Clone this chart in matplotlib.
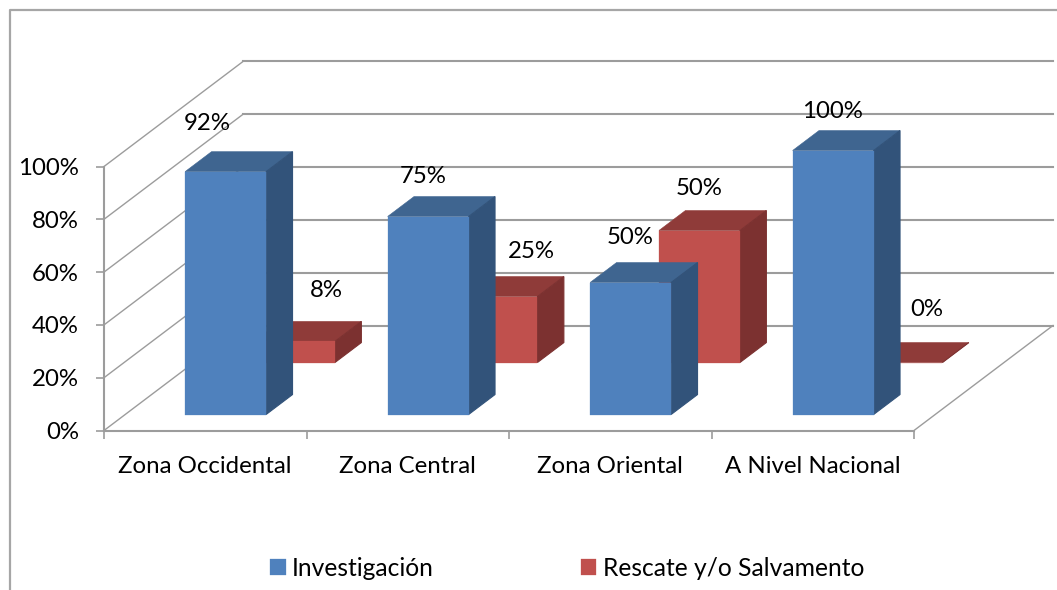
import matplotlib
matplotlib.use('Agg')
import matplotlib.pyplot as plt
from matplotlib.lines import Line2D
from matplotlib.patches import Polygon

plt.rcParams['font.family'] = ['Lato', 'DejaVu Sans']

categorias = ['Zona Occidental', 'Zona Central', 'Zona Oriental', 'A Nivel Nacional']
investigacion = [92, 75, 50, 100]
rescate = [8, 25, 50, 0]
ticks_y = [0, 20, 40, 60, 80, 100]

# pixels of one category / 100%, the rest is the oblique 3D look
W, H = 1057, 590
PX_CAT = 202.5
PX_PCT = 2.64
X0, Y0 = 104, 430.5
DX = 139 / PX_CAT
DY = 105 / PX_PCT
ANCHO = 0.4
FONDO = 0.19
FS = 17.3

fig = plt.figure(figsize=(W / 100, H / 100), dpi=100)
ax = fig.add_axes([0, 0, 1, 1])
ax.set_xlim(-X0 / PX_CAT, (W - X0) / PX_CAT)
ax.set_ylim(-(H - Y0) / PX_PCT, Y0 / PX_PCT)
ax.patch.set_visible(False)

gris = '#9c9c9c'

# paredes y piso
for v in ticks_y:
    ax.plot([0, DX], [v, v + DY], color=gris, lw=1.0, zorder=1)
    ax.plot([DX, 4 + DX], [v + DY, v + DY], color=gris, lw=1.5, zorder=1)
ax.plot([4, 4 + DX], [0, DY], color=gris, lw=1.0, zorder=1)

for s in ['top', 'right']:
    ax.spines[s].set_visible(False)
for s in ['left', 'bottom']:
    ax.spines[s].set_position(('data', 0))
    ax.spines[s].set_color(gris)
    ax.spines[s].set_linewidth(1.5)
ax.spines['left'].set_bounds(0, 100)
ax.spines['bottom'].set_bounds(0, 4)

ax.set_yticks(ticks_y)
ax.set_yticklabels([f'{v}%' for v in ticks_y], fontsize=FS)
ax.set_xticks(range(5))
ax.set_xticklabels([])
ax.set_xticks([i + 0.5 for i in range(4)], minor=True)
ax.set_xticklabels(categorias, minor=True, fontsize=FS)
ax.tick_params(axis='both', which='major', length=6, width=1.2, color=gris)
ax.tick_params(axis='x', which='minor', length=0, pad=18.5)
ax.tick_params(axis='y', pad=12)


def barra(i, valor, prof, caras, z, etiqueta=None):
    frente, lado, tapa = caras
    x = i + 0.496 - ANCHO / 2 + prof * DX
    y = prof * DY
    ax.bar(x, valor, ANCHO, bottom=y, align='edge', color=frente, edgecolor=frente,
           lw=0.2, zorder=z + 0.01, label=etiqueta)
    dx, dy = FONDO * DX, FONDO * DY
    ax.add_patch(Polygon([(x, y + valor), (x + ANCHO, y + valor),
                          (x + ANCHO + dx, y + valor + dy), (x + dx, y + valor + dy)],
                         fc=tapa, ec=tapa, lw=0.4, zorder=z))
    # el borde tapa la junta con la cara frontal
    ax.add_patch(Polygon([(x + ANCHO, y), (x + ANCHO + dx, y + dy),
                          (x + ANCHO + dx, y + valor + dy), (x + ANCHO, y + valor)],
                         fc=lado, ec=lado, lw=0.8, zorder=z))
    return x + ANCHO / 2, y + valor


caras_azul = ('#4f81bd', '#32537a', '#3f6590')
caras_rojo = ('#c0504d', '#7c3130', '#8f3b39')
prof_azul = 16 / 105
prof_rojo = 68 / 105

# desplazamiento de cada etiqueta respecto a la barra, en pixeles
off_azul = [(-18, 48), (-5, 40), (0, 45), (-1, 39)]
off_rojo = [(32, 51), (34, 45), (0, 42), (25, 53)]

for i in range(4):
    lab = 'Rescate y/o Salvamento' if i == 0 else None
    px, py = barra(i, rescate[i], prof_rojo, caras_rojo, 2 + i * 0.1, lab)
    ax.annotate(f'{rescate[i]}%', (px, py), xytext=(off_rojo[i][0] * 0.72, off_rojo[i][1] * 0.72),
                textcoords='offset points', ha='center', va='center', fontsize=FS, zorder=6)
for i in range(4):
    lab = 'Investigación' if i == 0 else None
    px, py = barra(i, investigacion[i], prof_azul, caras_azul, 3 + i * 0.1, lab)
    ax.annotate(f'{investigacion[i]}%', (px, py), xytext=(off_azul[i][0] * 0.72, off_azul[i][1] * 0.72),
                textcoords='offset points', ha='center', va='center', fontsize=FS, zorder=6)

h, l = ax.get_legend_handles_labels()
ax.legend(h[::-1], l[::-1], ncol=2, frameon=False, fontsize=17.7, loc='center left',
          bbox_to_anchor=(263 / W, 1 - 568 / H), handlelength=0.62, handleheight=0.62,
          handletextpad=0.25, columnspacing=6.0, borderpad=0.3, borderaxespad=0)

# marco del grafico
fig.add_artist(Line2D([10 / W, 10 / W, 1], [0, 1 - 10 / H, 1 - 10 / H], color='#a6a6a6', lw=1.6))

fig.savefig('out.png', dpi=100)
